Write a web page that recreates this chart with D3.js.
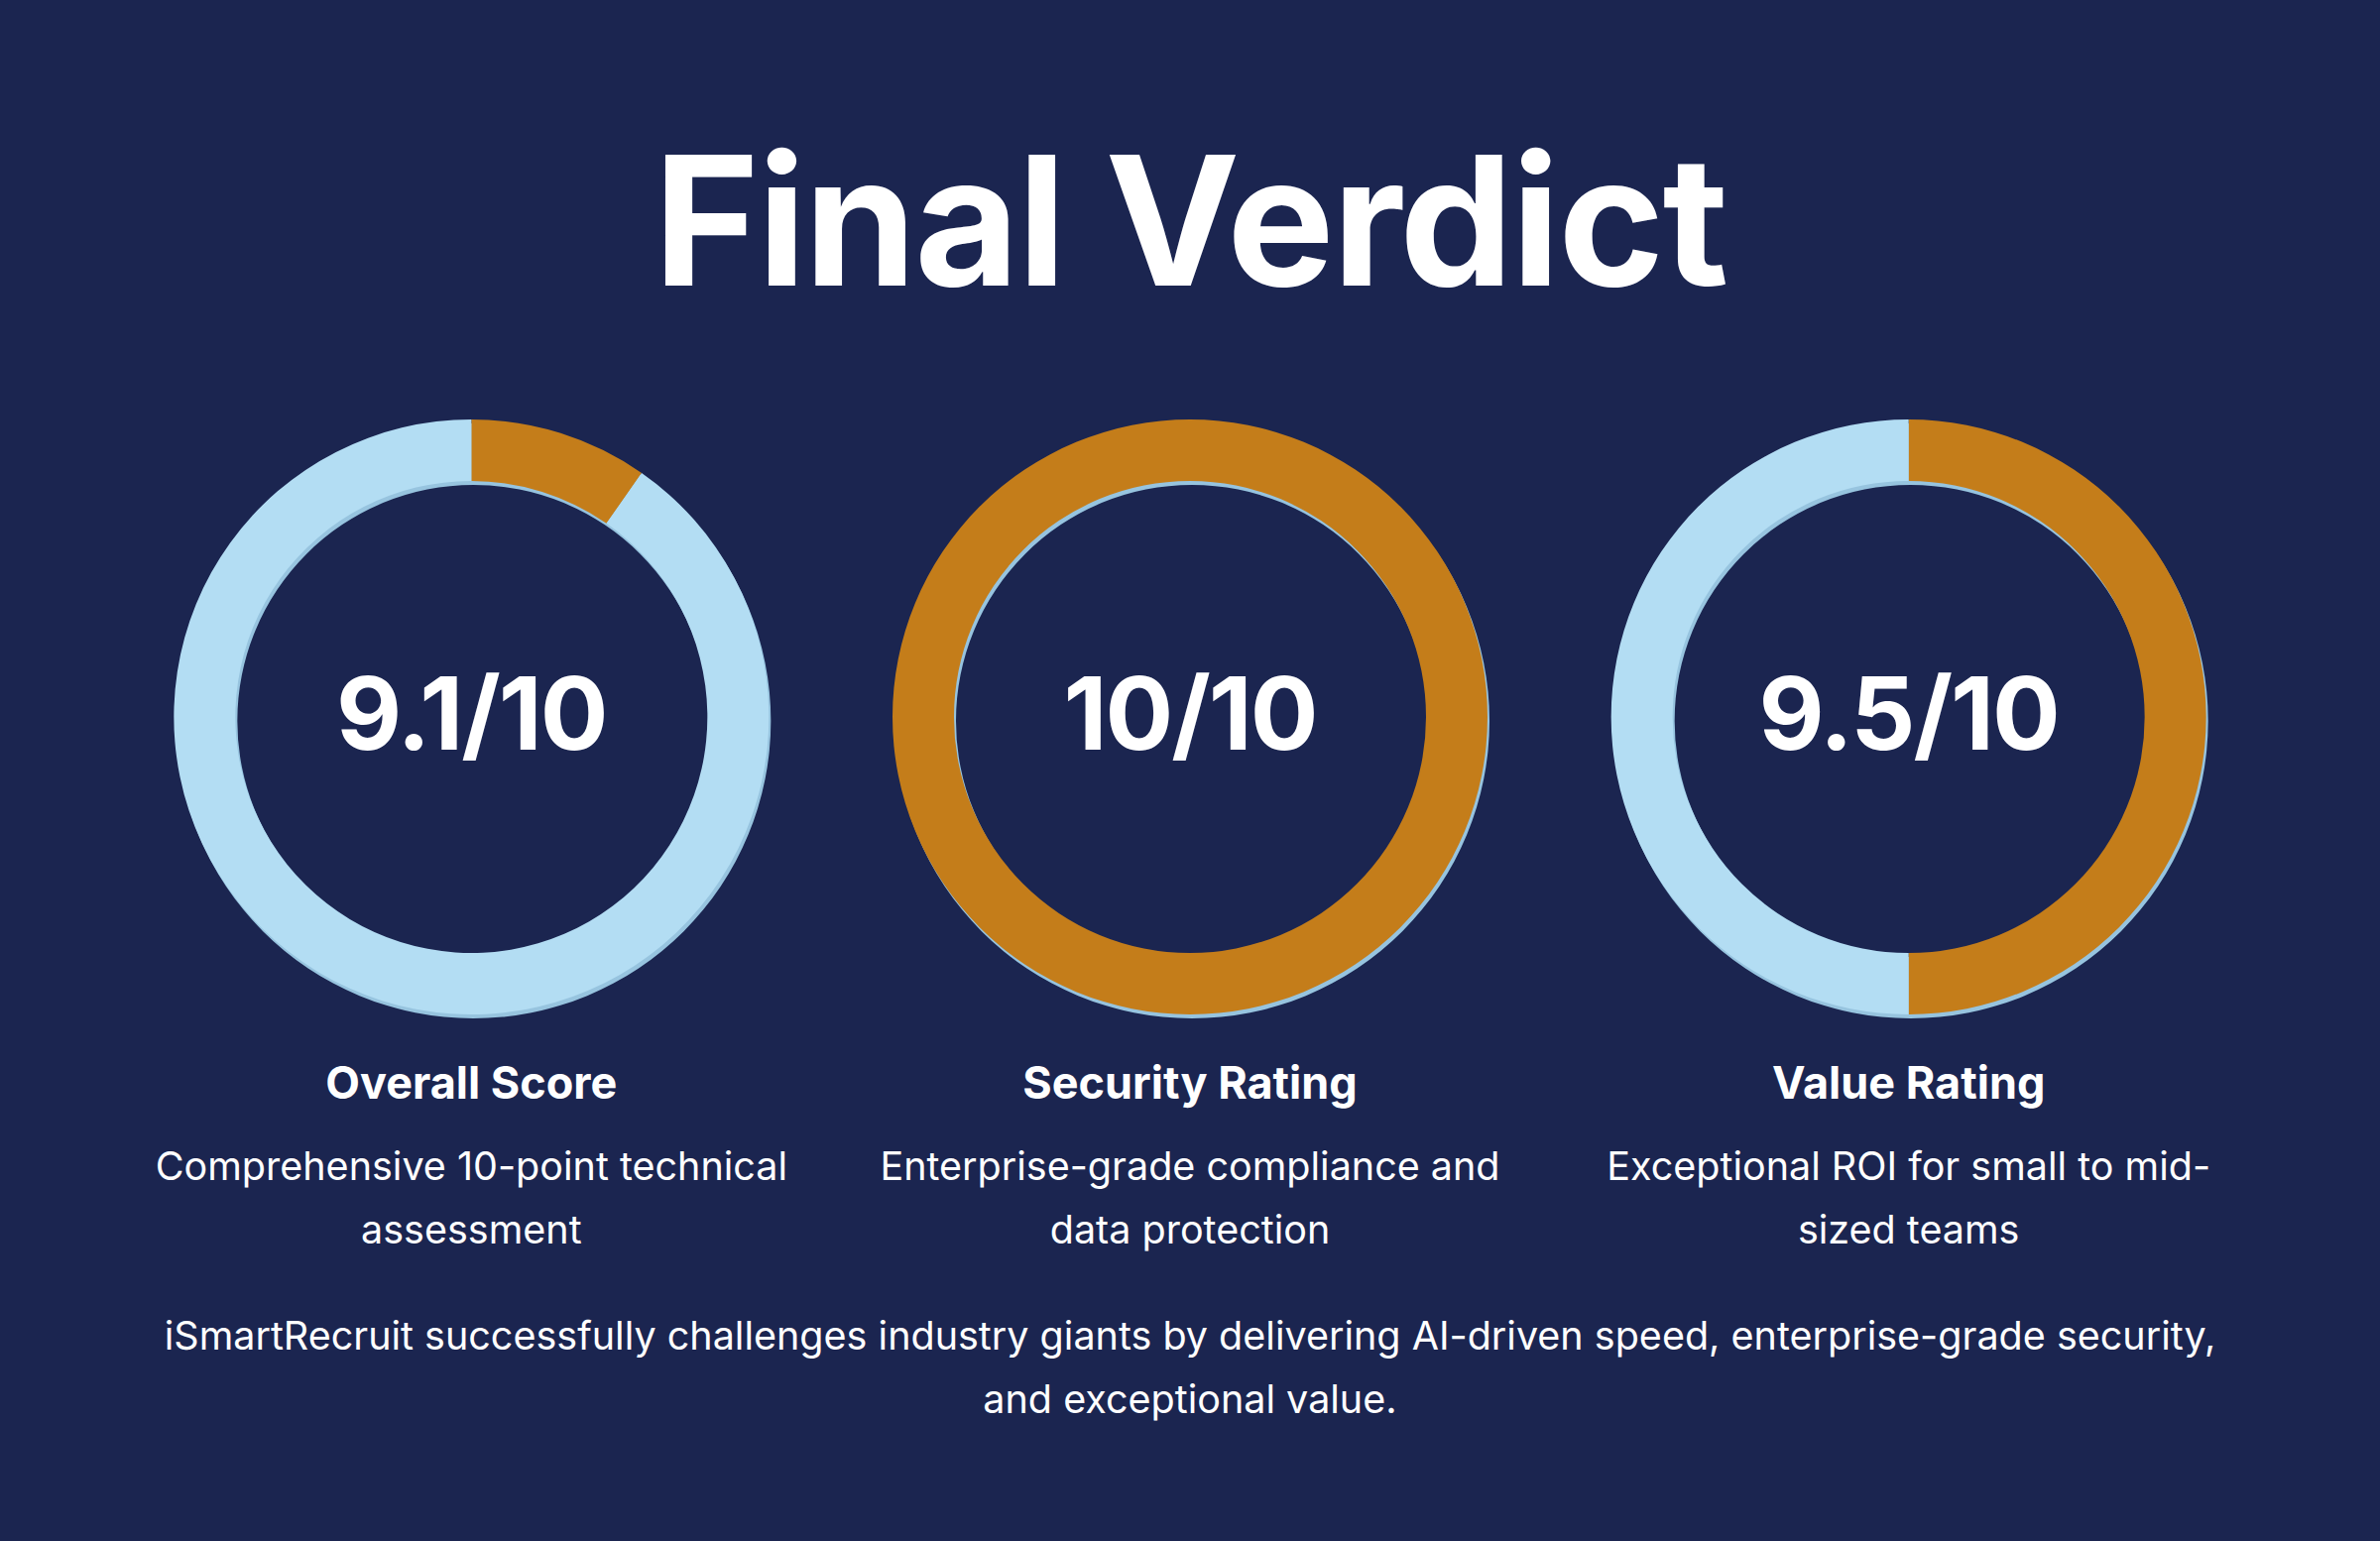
<!DOCTYPE html>
<html>
<head>
<meta charset="utf-8">
<script src="https://cdn.jsdelivr.net/npm/d3@7"></script>
<style>
  html, body { margin: 0; padding: 0; background: #1b2550; }
  svg { display: block; }
</style>
</head>
<body>
<svg id="chart" width="2400" height="1554"></svg>
<script>
// ---- data ----
const title = "Final Verdict";
const categories = ["Overall Score", "Security Rating", "Value Rating"];
const scoreLabels = ["9.1/10", "10/10", "9.5/10"];
// share of each ring drawn in the accent (orange) colour, clockwise from 12 o'clock
const accentShare = [0.097, 1.0, 0.5];
const descriptions = [
  ["Comprehensive 10-point technical", "assessment"],
  ["Enterprise-grade compliance and", "data protection"],
  ["Exceptional ROI for small to mid-", "sized teams"]
];
const summaryLines = [
  "iSmartRecruit successfully challenges industry giants by delivering AI-driven speed, enterprise-grade security,",
  "and exceptional value."
];

// ---- styles ----
const W = 2400, H = 1554;
const bg = "#1b2550";
const accent = "#c47d1a";
const track = "#b3ddf3";
const trackShadow = "#97c4df";
const font = "Inter, 'Noto Sans', sans-serif";

const svg = d3.select("#chart");
svg.append("rect").attr("width", W).attr("height", H).attr("fill", bg);

svg.append("text")
  .attr("x", W / 2).attr("y", 288)
  .attr("text-anchor", "middle")
  .attr("font-family", font).attr("font-weight", 700)
  .attr("font-size", 182).attr("letter-spacing", -2)
  .attr("fill", "#ffffff")
  .text(title);

const x = d3.scaleBand().domain(categories).range([113, 2287]);
const cy = 723;
const rOuter = 300, rInner = 238;

const arc = d3.arc().innerRadius(rInner).outerRadius(rOuter);
const pie = d3.pie().sort(null).value(d => d.v);

const groups = svg.selectAll("g.card")
  .data(categories.map((c, i) => ({ c, i })))
  .join("g")
  .attr("class", "card")
  .attr("transform", d => `translate(${x(d.c) + x.bandwidth() / 2},0)`);

// shadow ring
groups.append("path")
  .attr("transform", `translate(2,${cy + 4})`)
  .attr("d", arc({ startAngle: 0, endAngle: 2 * Math.PI }))
  .attr("fill", trackShadow);

// ring segments
groups.append("g")
  .attr("transform", `translate(0,${cy})`)
  .selectAll("path")
  .data(d => pie([
    { k: "accent", v: accentShare[d.i] },
    { k: "track", v: 1 - accentShare[d.i] }
  ]))
  .join("path")
  .attr("d", arc)
  .attr("fill", s => s.data.k === "accent" ? accent : track);

// score in the centre
groups.append("text")
  .attr("x", 0).attr("y", 756)
  .attr("text-anchor", "middle")
  .attr("font-family", font).attr("font-weight", 700)
  .attr("font-size", 102).attr("letter-spacing", -2)
  .attr("fill", "#ffffff")
  .text(d => scoreLabels[d.i]);

// heading
groups.append("text")
  .attr("x", 0).attr("y", 1108)
  .attr("text-anchor", "middle")
  .attr("font-family", font).attr("font-weight", 700)
  .attr("font-size", 45)
  .attr("fill", "#ffffff")
  .text(d => d.c);

// description
groups.append("text")
  .attr("text-anchor", "middle")
  .attr("font-family", font).attr("font-weight", 400)
  .attr("font-size", 39.5)
  .attr("fill", "#ffffff")
  .selectAll("tspan")
  .data(d => descriptions[d.i])
  .join("tspan")
  .attr("x", 0)
  .attr("y", (t, j) => 1190 + j * 64)
  .text(t => t);

// summary
svg.append("text")
  .attr("text-anchor", "middle")
  .attr("font-family", font).attr("font-weight", 400)
  .attr("font-size", 39.5)
  .attr("fill", "#ffffff")
  .selectAll("tspan")
  .data(summaryLines)
  .join("tspan")
  .attr("x", W / 2)
  .attr("y", (t, j) => 1361 + j * 64)
  .text(t => t);
</script>
</body>
</html>
